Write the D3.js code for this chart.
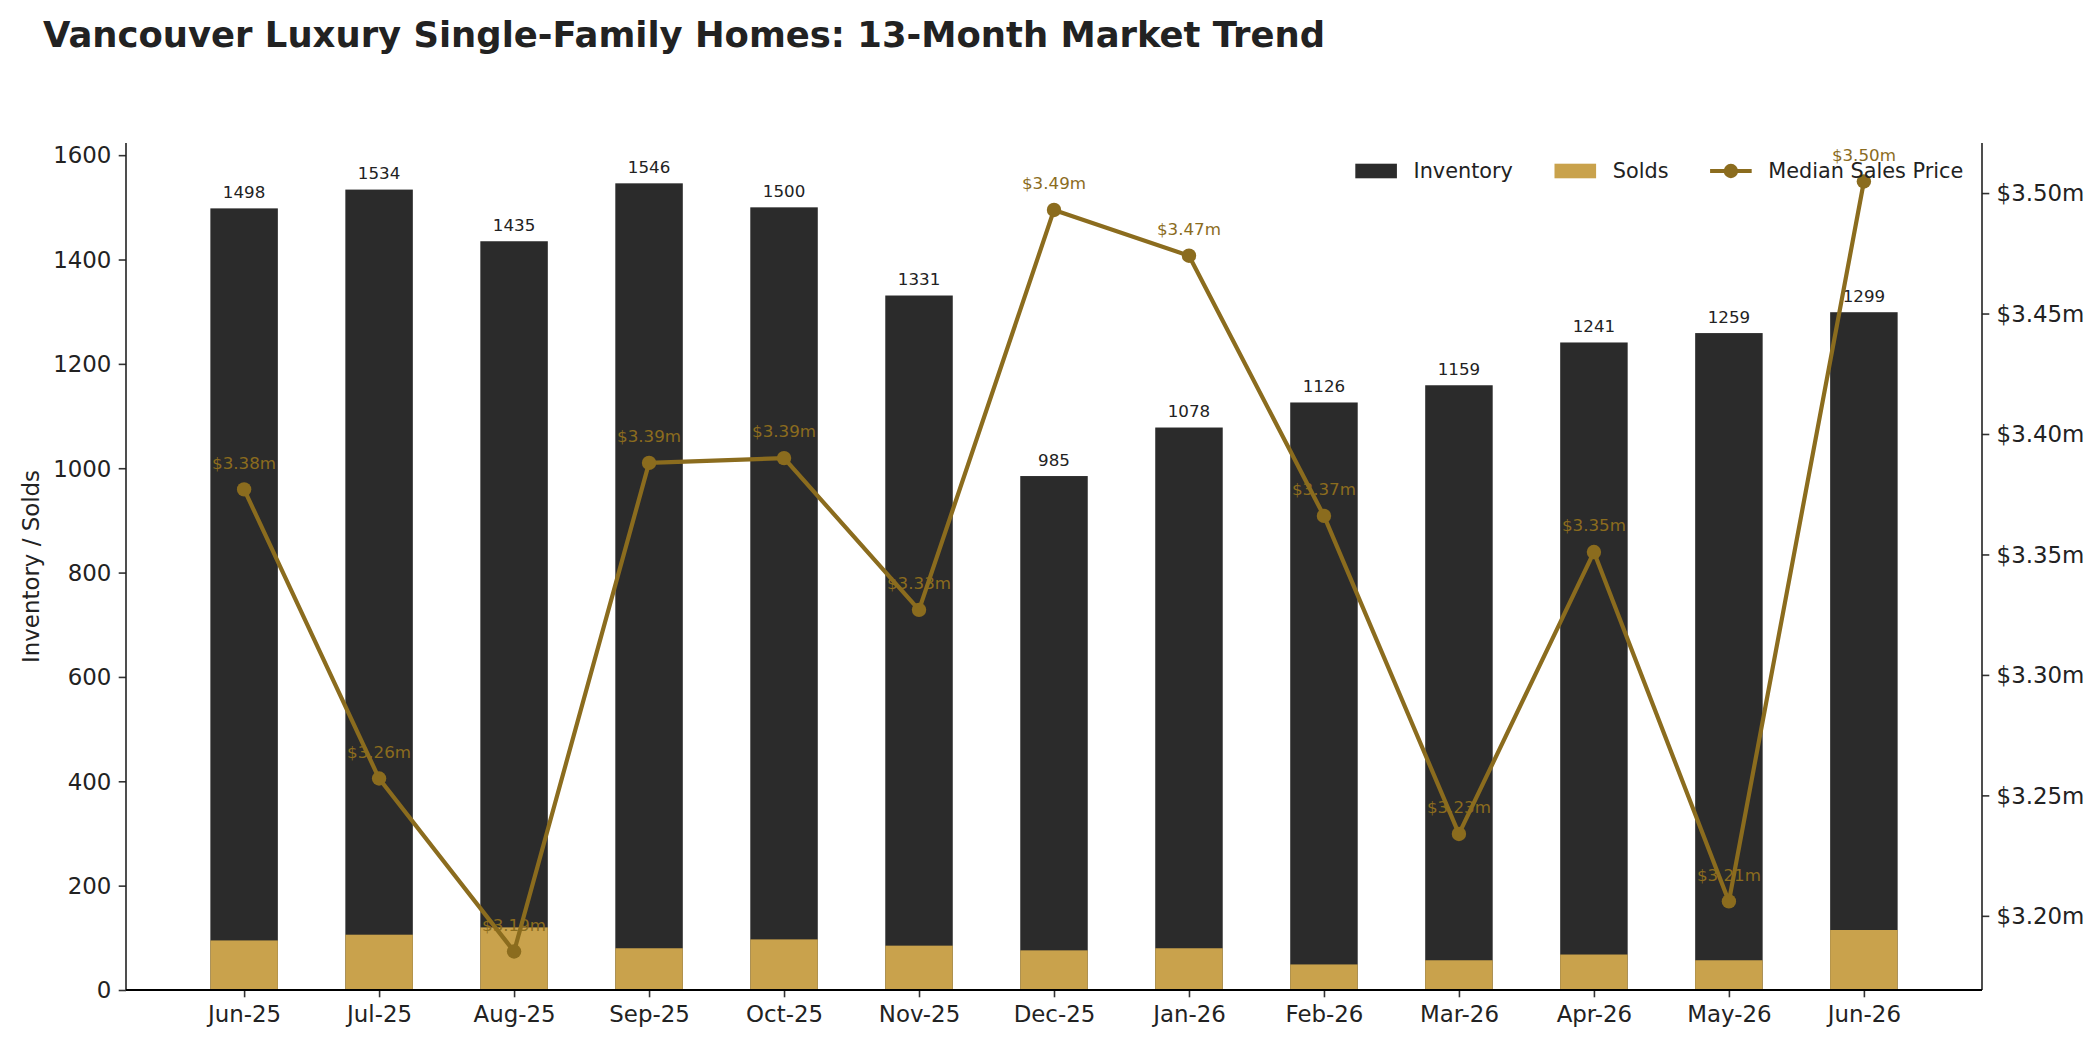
<!DOCTYPE html>
<html>
<head>
<meta charset="utf-8">
<script src="https://cdn.jsdelivr.net/npm/d3@7"></script>
<style>
  html, body { margin: 0; padding: 0; background: #fff; }
  svg text { font-family: "DejaVu Sans", sans-serif; }
</style>
</head>
<body>
<div id="chart"></div>
<script>
// ── Data ───────────────────────────────────────────────────────────────
const months    = ['Jun-25','Jul-25','Aug-25','Sep-25','Oct-25','Nov-25','Dec-25',
                   'Jan-26','Feb-26','Mar-26','Apr-26','May-26','Jun-26'];
const inventory = [1498, 1534, 1435, 1546, 1500, 1331, 985, 1078, 1126, 1159, 1241, 1259, 1299];
const solds     = [95, 106, 120, 80, 97, 85, 76, 80, 49, 57, 68, 57, 115];
const price     = [3.377, 3.257, 3.1852, 3.388, 3.390, 3.327, 3.493, 3.474, 3.366, 3.234, 3.351, 3.206, 3.5048];
const leftTicks  = [0, 200, 400, 600, 800, 1000, 1200, 1400, 1600];
const rightTicks = [3.20, 3.25, 3.30, 3.35, 3.40, 3.45, 3.50];

const C_INV   = '#2b2b2b';
const C_SOLD  = '#c9a24c';
const C_LINE  = '#8b6c1e';
const C_TEXT  = '#222';

// ── Layout ─────────────────────────────────────────────────────────────
const W = 2100, H = 1050;
const m = { left: 126, right: 118, top: 143, bottom: 60 };
const x0 = m.left, x1 = W - m.right, y0 = m.top, y1 = H - m.bottom;
const TICK = 7.3, PAD = 7.3;

const svg = d3.select('#chart').append('svg')
  .attr('width', W).attr('height', H);

// ── Scales ─────────────────────────────────────────────────────────────
const barW = 0.5;
const n = months.length;
const span = (n - 1) + barW;
const x = d3.scaleLinear()
  .domain([-barW / 2 - span * 0.05, n - 1 + barW / 2 + span * 0.05])
  .range([x0, x1]);

const yL = d3.scaleLinear().domain([0, d3.max(inventory) * 1.05]).range([y1, y0]);

const [pMin, pMax] = d3.extent(price);
const pPad = (pMax - pMin) * 0.05;
const yR = d3.scaleLinear().domain([pMin - pPad, pMax + pPad]).range([y1, y0]);

const bw = x(barW) - x(0);

// ── Title ──────────────────────────────────────────────────────────────
svg.append('text')
  .attr('x', 43).attr('y', 47)
  .attr('font-size', 35.4).attr('font-weight', 'bold').attr('fill', C_TEXT)
  .text('Vancouver Luxury Single-Family Homes: 13-Month Market Trend');

// ── Bars ───────────────────────────────────────────────────────────────
const plot = svg.append('g');

plot.selectAll('.inv').data(inventory).join('rect')
  .attr('class', 'inv')
  .attr('x', (d, i) => x(i) - bw / 2)
  .attr('y', d => yL(d))
  .attr('width', bw)
  .attr('height', d => yL(0) - yL(d))
  .attr('fill', C_INV);

plot.selectAll('.sold').data(solds).join('rect')
  .attr('class', 'sold')
  .attr('x', (d, i) => x(i) - bw / 2)
  .attr('y', d => yL(d))
  .attr('width', bw)
  .attr('height', d => yL(0) - yL(d))
  .attr('fill', C_SOLD);

plot.selectAll('.inv-lab').data(inventory).join('text')
  .attr('class', 'inv-lab')
  .attr('x', (d, i) => x(i))
  .attr('y', d => yL(d) - 10.2)
  .attr('text-anchor', 'middle')
  .attr('font-size', 16.7).attr('fill', C_TEXT)
  .text(d => d);

// ── Axes ───────────────────────────────────────────────────────────────
function styleAxis(g) {
  g.select('.domain').remove();
  g.selectAll('.tick line').attr('stroke', '#333').attr('stroke-width', 1.6);
  g.selectAll('.tick text').attr('fill', C_TEXT).attr('font-size', 22.9)
    .attr('font-family', '"DejaVu Sans", sans-serif');
}

svg.append('g')
  .attr('transform', `translate(${x0},0)`)
  .call(d3.axisLeft(yL).tickValues(leftTicks).tickSize(TICK).tickPadding(PAD)
    .tickFormat(d3.format('d')))
  .call(styleAxis)
  .selectAll('.tick text').attr('dy', '0.34em');

svg.append('g')
  .attr('transform', `translate(${x1},0)`)
  .call(d3.axisRight(yR).tickValues(rightTicks).tickSize(TICK).tickPadding(PAD)
    .tickFormat(v => `$${v.toFixed(2)}m`))
  .call(styleAxis)
  .selectAll('.tick text').attr('dy', '0.34em');

svg.append('g')
  .attr('transform', `translate(0,${y1})`)
  .call(d3.axisBottom(x).tickValues(d3.range(n)).tickSize(TICK).tickPadding(PAD)
    .tickFormat(i => months[i]))
  .call(styleAxis)
  .selectAll('.tick text').attr('dy', '0.78em');

// spines
svg.append('line').attr('x1', x0).attr('x2', x0).attr('y1', y0).attr('y2', y1)
  .attr('stroke', '#222').attr('stroke-width', 1.6);
svg.append('line').attr('x1', x1).attr('x2', x1).attr('y1', y0).attr('y2', y1)
  .attr('stroke', '#222').attr('stroke-width', 1.6);
svg.append('line').attr('x1', x0).attr('x2', x1).attr('y1', y1).attr('y2', y1)
  .attr('stroke', '#000').attr('stroke-width', 2);

svg.append('text')
  .attr('transform', `translate(31,${(y0 + y1) / 2}) rotate(-90)`)
  .attr('text-anchor', 'middle').attr('dy', '0.35em')
  .attr('font-size', 22.9).attr('fill', C_TEXT)
  .text('Inventory / Solds');

// ── Median price line ─────────────────────────────────────────────────
const line = d3.line().x((d, i) => x(i)).y(d => yR(d));

svg.append('path')
  .datum(price)
  .attr('d', line)
  .attr('fill', 'none')
  .attr('stroke', C_LINE)
  .attr('stroke-width', 4.2)
  .attr('stroke-linejoin', 'round');

svg.selectAll('.pt').data(price).join('circle')
  .attr('class', 'pt')
  .attr('cx', (d, i) => x(i))
  .attr('cy', d => yR(d))
  .attr('r', 7.2)
  .attr('fill', C_LINE);

svg.selectAll('.p-lab').data(price).join('text')
  .attr('class', 'p-lab')
  .attr('x', (d, i) => x(i))
  .attr('y', d => yR(d) - 20.6)
  .attr('text-anchor', 'middle')
  .attr('font-size', 16.7).attr('fill', C_LINE)
  .text(d => `$${d.toFixed(2)}m`);

// ── Legend (upper right, no frame) ────────────────────────────────────
const LF = 20.8;
const legendItems = [
  { label: 'Inventory', type: 'patch', color: C_INV },
  { label: 'Solds', type: 'patch', color: C_SOLD },
  { label: 'Median Sales Price', type: 'line', color: C_LINE }
];
const leg = svg.append('g');
const legY = 171;
const handleLen = 2 * LF, handlePad = 0.8 * LF, colSpace = 2 * LF;

const texts = legendItems.map(it => leg.append('text')
  .attr('font-size', LF).attr('fill', C_TEXT).attr('dy', '0.35em')
  .attr('y', legY).text(it.label));
const widths = texts.map(t => t.node().getComputedTextLength());
const total = d3.sum(widths) + legendItems.length * (handleLen + handlePad)
  + (legendItems.length - 1) * colSpace;
let cx = x1 - 0.9 * LF - total;

legendItems.forEach((it, i) => {
  if (it.type === 'patch') {
    leg.append('rect')
      .attr('x', cx).attr('y', legY - 7.3)
      .attr('width', handleLen).attr('height', 14.6)
      .attr('fill', it.color);
  } else {
    leg.append('line')
      .attr('x1', cx).attr('x2', cx + handleLen)
      .attr('y1', legY).attr('y2', legY)
      .attr('stroke', it.color).attr('stroke-width', 4.2);
    leg.append('circle')
      .attr('cx', cx + handleLen / 2).attr('cy', legY).attr('r', 7.2)
      .attr('fill', it.color);
  }
  texts[i].attr('x', cx + handleLen + handlePad);
  cx += handleLen + handlePad + widths[i] + colSpace;
});
</script>
</body>
</html>
